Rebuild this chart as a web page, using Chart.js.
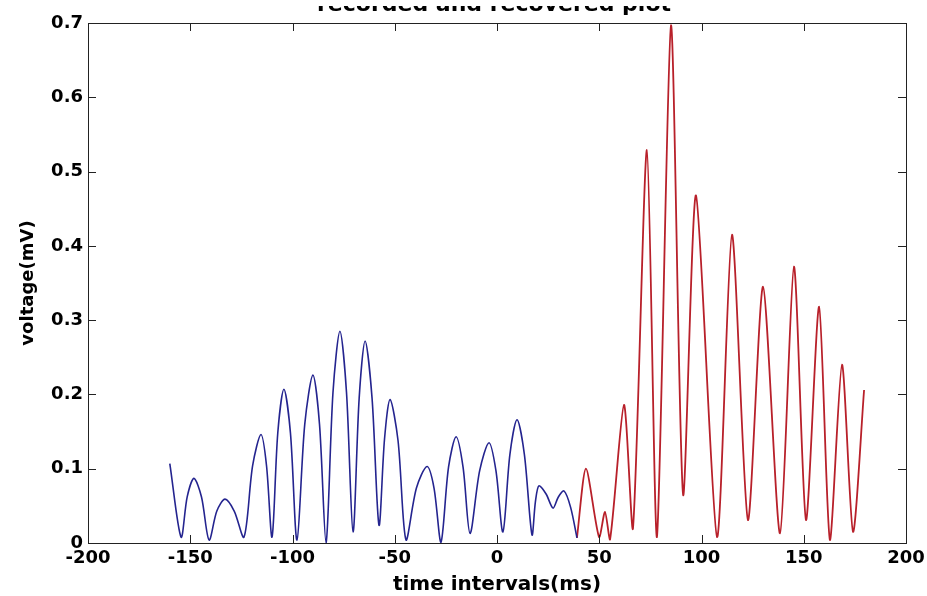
<!DOCTYPE html>
<html>
<head>
<meta charset="utf-8">
<title>recorded and recovered plot</title>
<script src="https://cdn.jsdelivr.net/npm/chart.js@4.4.1/dist/chart.umd.min.js"></script>
<style>
  html, body { margin: 0; padding: 0; background: #fff; }
  canvas { display: block; }
</style>
</head>
<body>
<canvas id="voltage-chart" width="927" height="596"></canvas>
<script>
const chartCanvas = document.getElementById('voltage-chart')

const titleText = 'recorded and recovered plot'
const xLabel = 'time intervals(ms)'
const yLabel = 'voltage(mV)'

// blue part (recorded): troughs, shoulders, peaks
const blueX = [-160, -154.5, -151.5, -148.2, -144.5, -140.8, -137, -133, -128.5, -123.7,
  -119.5, -115.4, -112.7, -110, -107.2, -104.2, -101, -97.8, -94, -90,
  -86.8, -83.6, -80.2, -76.8, -73.6, -70.4, -67.4, -64.5, -61.1, -57.7,
  -55, -52.3, -48.4, -44.5, -39.4, -34.2, -30.8, -27.4, -23.7, -20,
  -16.6, -13.2, -8.5, -3.9, -0.5, 2.9, 6.3, 9.8, 13.4, 17.1,
  18.8, 20.5, 24, 27.4, 30, 32.8, 36, 39.1]
const blueY = [0.107, 0.008, 0.062, 0.087, 0.062, 0.004, 0.043, 0.059, 0.043, 0.008,
  0.104, 0.146, 0.104, 0.008, 0.148, 0.207, 0.148, 0.004, 0.160, 0.226,
  0.160, 0.000, 0.203, 0.285, 0.203, 0.015, 0.195, 0.272, 0.195, 0.024,
  0.140, 0.193, 0.138, 0.004, 0.074, 0.103, 0.074, 0.001, 0.102, 0.143,
  0.102, 0.013, 0.097, 0.135, 0.097, 0.015, 0.119, 0.166, 0.119, 0.011,
  0.056, 0.077, 0.066, 0.047, 0.062, 0.070, 0.048, 0.007]

// red part (recovered)
const redX = [39.1, 43.5, 49.9, 52.8, 55.3, 62.1, 66.5, 73.3, 78.2, 85.1,
  91, 97.3, 107.6, 114.9, 122.7, 130.1, 138.4, 145.2, 151.1, 157.5,
  162.8, 168.7, 174.1, 179.5]
const redY = [0.007, 0.100, 0.008, 0.042, 0.005, 0.186, 0.020, 0.529, 0.008, 0.697,
  0.065, 0.468, 0.008, 0.415, 0.031, 0.345, 0.013, 0.372, 0.031, 0.318,
  0.004, 0.240, 0.015, 0.206]

function toPoints(xs, ys) {
  return xs.map((x, i) => ({ x: x, y: ys[i] }))
}

Chart.defaults.font.family = 'DejaVu Sans'
Chart.defaults.color = '#000'

// matlab style box with inward ticks
const boxPlugin = {
  id: 'box',
  afterDraw(chart) {
    const { ctx, chartArea: a, scales } = chart
    const len = 8
    ctx.save()
    ctx.strokeStyle = '#222'
    ctx.lineWidth = 1
    ctx.beginPath()
    scales.x.ticks.forEach(t => {
      if (t.value <= scales.x.min || t.value >= scales.x.max) return
      const px = Math.round(scales.x.getPixelForValue(t.value)) + 0.5
      ctx.moveTo(px, a.bottom); ctx.lineTo(px, a.bottom - len)
      ctx.moveTo(px, a.top); ctx.lineTo(px, a.top + len)
    })
    scales.y.ticks.forEach(t => {
      if (t.value <= scales.y.min || t.value >= scales.y.max) return
      const py = Math.round(scales.y.getPixelForValue(t.value)) + 0.5
      ctx.moveTo(a.left, py); ctx.lineTo(a.left + len, py)
      ctx.moveTo(a.right, py); ctx.lineTo(a.right - len, py)
    })
    ctx.stroke()
    ctx.strokeRect(Math.round(a.left) + 0.5, Math.round(a.top) + 0.5,
      Math.round(a.right - a.left), Math.round(a.bottom - a.top))
    ctx.restore()
  }
}

// the title is cut off at the top of the picture, only its lower part shows
const cutTitlePlugin = {
  id: 'cutTitle',
  afterDraw(chart) {
    const { ctx, chartArea: a } = chart
    ctx.save()
    ctx.beginPath()
    ctx.rect(0, 6, chart.width, 14)
    ctx.clip()
    ctx.font = 'bold 22px "DejaVu Sans"'
    ctx.fillStyle = '#000'
    ctx.textAlign = 'center'
    ctx.textBaseline = 'alphabetic'
    ctx.fillText(titleText, (a.left + a.right) / 2 - 3, 10.5)
    ctx.restore()
  }
}

new Chart(chartCanvas, {
  type: 'line',
  data: {
    datasets: [
      {
        label: 'recorded',
        data: toPoints(blueX, blueY),
        borderColor: '#24248f',
        borderWidth: 1.6,
        tension: 0.3,
        pointRadius: 0,
        fill: false
      },
      {
        label: 'recovered',
        data: toPoints(redX, redY),
        borderColor: '#b8202a',
        borderWidth: 1.8,
        tension: 0.25,
        pointRadius: 0,
        fill: false
      }
    ]
  },
  plugins: [boxPlugin, cutTitlePlugin],
  options: {
    responsive: false,
    animation: false,
    layout: { padding: { left: 0, right: 21, top: 23, bottom: 0 } },
    plugins: {
      legend: { display: false },
      tooltip: { enabled: false }
    },
    scales: {
      x: {
        type: 'linear',
        min: -200,
        max: 200,
        grid: { display: false, drawTicks: false },
        border: { display: false },
        ticks: { stepSize: 50, padding: 5, font: { size: 18, weight: 'bold' }, maxRotation: 0 },
        title: {
          display: true,
          text: xLabel,
          font: { size: 20, weight: 'bold', lineHeight: 1 },
          padding: { top: 0, bottom: 1 }
        },
        afterFit(scale) {
          scale.height = 53
          scale.paddingLeft = 0
          scale.paddingRight = 0
        }
      },
      y: {
        min: 0,
        max: 0.7,
        grid: { display: false, drawTicks: false },
        border: { display: false },
        ticks: { stepSize: 0.1, padding: 5, font: { size: 18, weight: 'bold' } },
        title: {
          display: true,
          text: yLabel,
          font: { size: 18, weight: 'bold', lineHeight: 1 },
          padding: { top: 19, bottom: 0 }
        },
        afterFit(scale) {
          scale.width = 88
          scale.paddingTop = 0
          scale.paddingBottom = 0
        }
      }
    }
  }
})
</script>
</body>
</html>
